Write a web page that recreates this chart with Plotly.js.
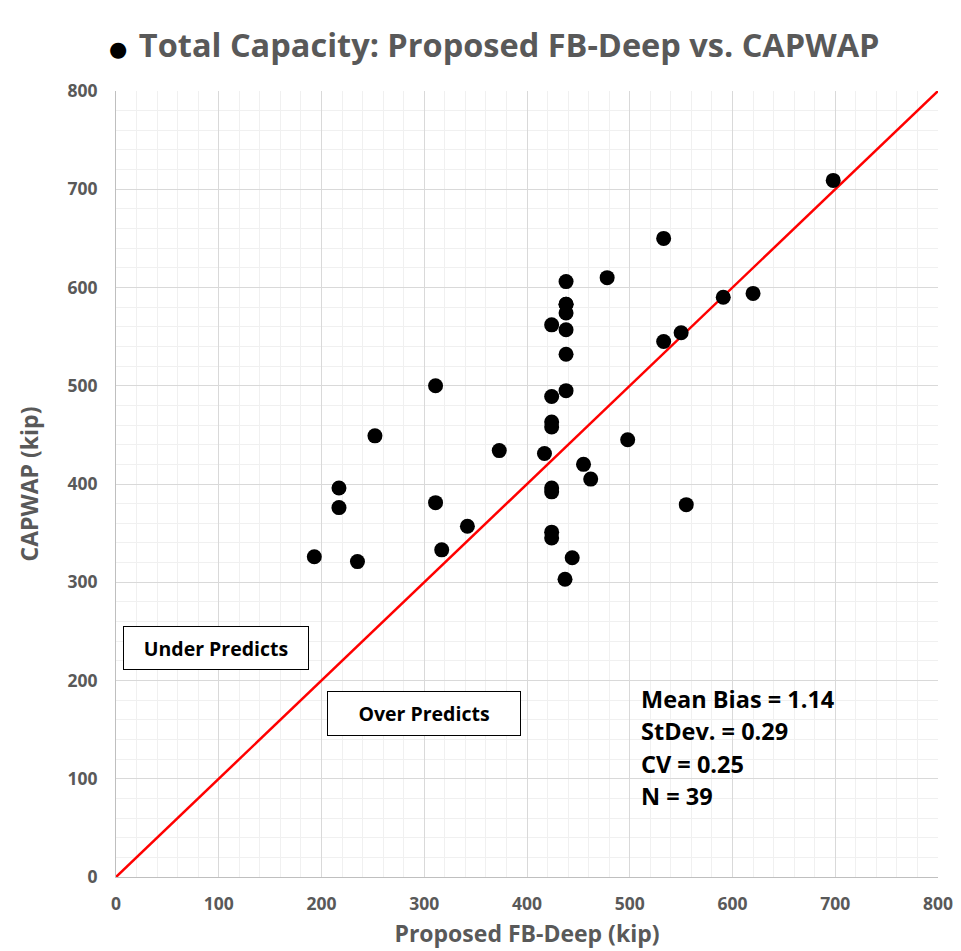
<!DOCTYPE html>
<html>
<head>
<meta charset="utf-8">
<script src="https://cdn.plot.ly/plotly-3.0.1.min.js"></script>
<style>html,body{margin:0;padding:0;background:#fff;}#chart{width:961px;height:951px;}</style>
</head>
<body>
<div id="chart"></div>
<script>
// Proposed FB-Deep (kip)
const fbDeep = [193, 217, 217, 235, 252, 311, 311, 317, 342, 373, 417, 424, 424, 424, 424, 424, 424, 424, 424, 438, 438, 438, 438, 438, 438, 438, 437, 444, 455, 462, 478, 498, 533, 533, 550, 555, 591, 620, 698];
// CAPWAP (kip)
const capwap = [326, 396, 376, 321, 449, 500, 381, 333, 357, 434, 431, 562, 489, 463, 458, 396, 392, 351, 345, 606, 583, 574, 557, 532, 495, 583, 303, 325, 420, 405, 610, 445, 545, 650, 554, 379, 590, 594, 709];
const lineX = [0, 800];
const lineY = [0, 800];
const statLines = ["Mean Bias = 1.14", "StDev. = 0.29", "CV = 0.25", "N = 39"];
const statY = [181, 148.5, 115, 82.5];

const FONT = "'Open Sans', 'Noto Sans', sans-serif";
const gray = "#595959";

const traces = [
  {x: lineX, y: lineY, mode: "lines", type: "scatter", line: {color: "#ff0000", width: 2.5}, hoverinfo: "skip", showlegend: false},
  {x: fbDeep, y: capwap, mode: "markers", type: "scatter", marker: {color: "#000000", size: 15}, showlegend: false}
];

const annotations = [
  {x: 97.3, y: 233, xref: "x", yref: "y", text: "Under Predicts", showarrow: false,
   font: {family: FONT, size: 19.5, color: "#000", weight: "bold"}, bordercolor: "#000", borderwidth: 1, borderpad: 0,
   width: 184, height: 42, bgcolor: "#fff"},
  {x: 300.2, y: 166.4, xref: "x", yref: "y", text: "Over Predicts", showarrow: false,
   font: {family: FONT, size: 19.5, color: "#000", weight: "bold"}, bordercolor: "#000", borderwidth: 1, borderpad: 0,
   width: 192, height: 43, bgcolor: "#fff"},
  // title bullet
  {x: 0.0025, y: 1.0535, xref: "paper", yref: "paper", xanchor: "center", yanchor: "middle", text: "●", showarrow: false,
   font: {family: "DejaVu Sans", size: 21, color: "#000"}}
];
statLines.forEach((t, i) => annotations.push({
  x: 509, y: statY[i], xref: "x", yref: "y", xanchor: "left", yanchor: "middle", text: t, showarrow: false,
  font: {family: FONT, size: 23.5, color: "#000", weight: "bold"}
}));

const axisCommon = {
  range: [0, 800], dtick: 100, tick0: 0,
  showgrid: true, gridcolor: "#d9d9d9", gridwidth: 1,
  minor: {dtick: 20, showgrid: true, gridcolor: "#f0f0f0", gridwidth: 1},
  zeroline: false, showline: true, linecolor: "#bfbfbf", linewidth: 1,
  ticks: "", tickfont: {family: FONT, size: 17.5, color: gray, weight: "bold"},
  fixedrange: true
};

const layout = {
  width: 961, height: 951,
  margin: {l: 116, r: 23, t: 91, b: 74},
  paper_bgcolor: "#fff", plot_bgcolor: "#fff",
  title: {text: "Total Capacity: Proposed FB-Deep vs. CAPWAP", x: 0.1445, xanchor: "left", xref: "container",
          y: 0.952, yanchor: "middle", yref: "container",
          font: {family: FONT, size: 32.5, color: gray, weight: "bold"}},
  xaxis: Object.assign({}, axisCommon, {
    title: {text: "Proposed FB-Deep (kip)", font: {family: FONT, size: 23, color: gray, weight: "bold"}, standoff: 11},
    ticklabelstandoff: 11
  }),
  yaxis: Object.assign({}, axisCommon, {
    title: {text: "CAPWAP (kip)", font: {family: FONT, size: 23, color: gray, weight: "bold"}, standoff: 22},
    ticklabelstandoff: 14
  }),
  annotations: annotations,
  showlegend: false
};

Plotly.newPlot("chart", traces, layout, {displayModeBar: false, staticPlot: true});
</script>
</body>
</html>
